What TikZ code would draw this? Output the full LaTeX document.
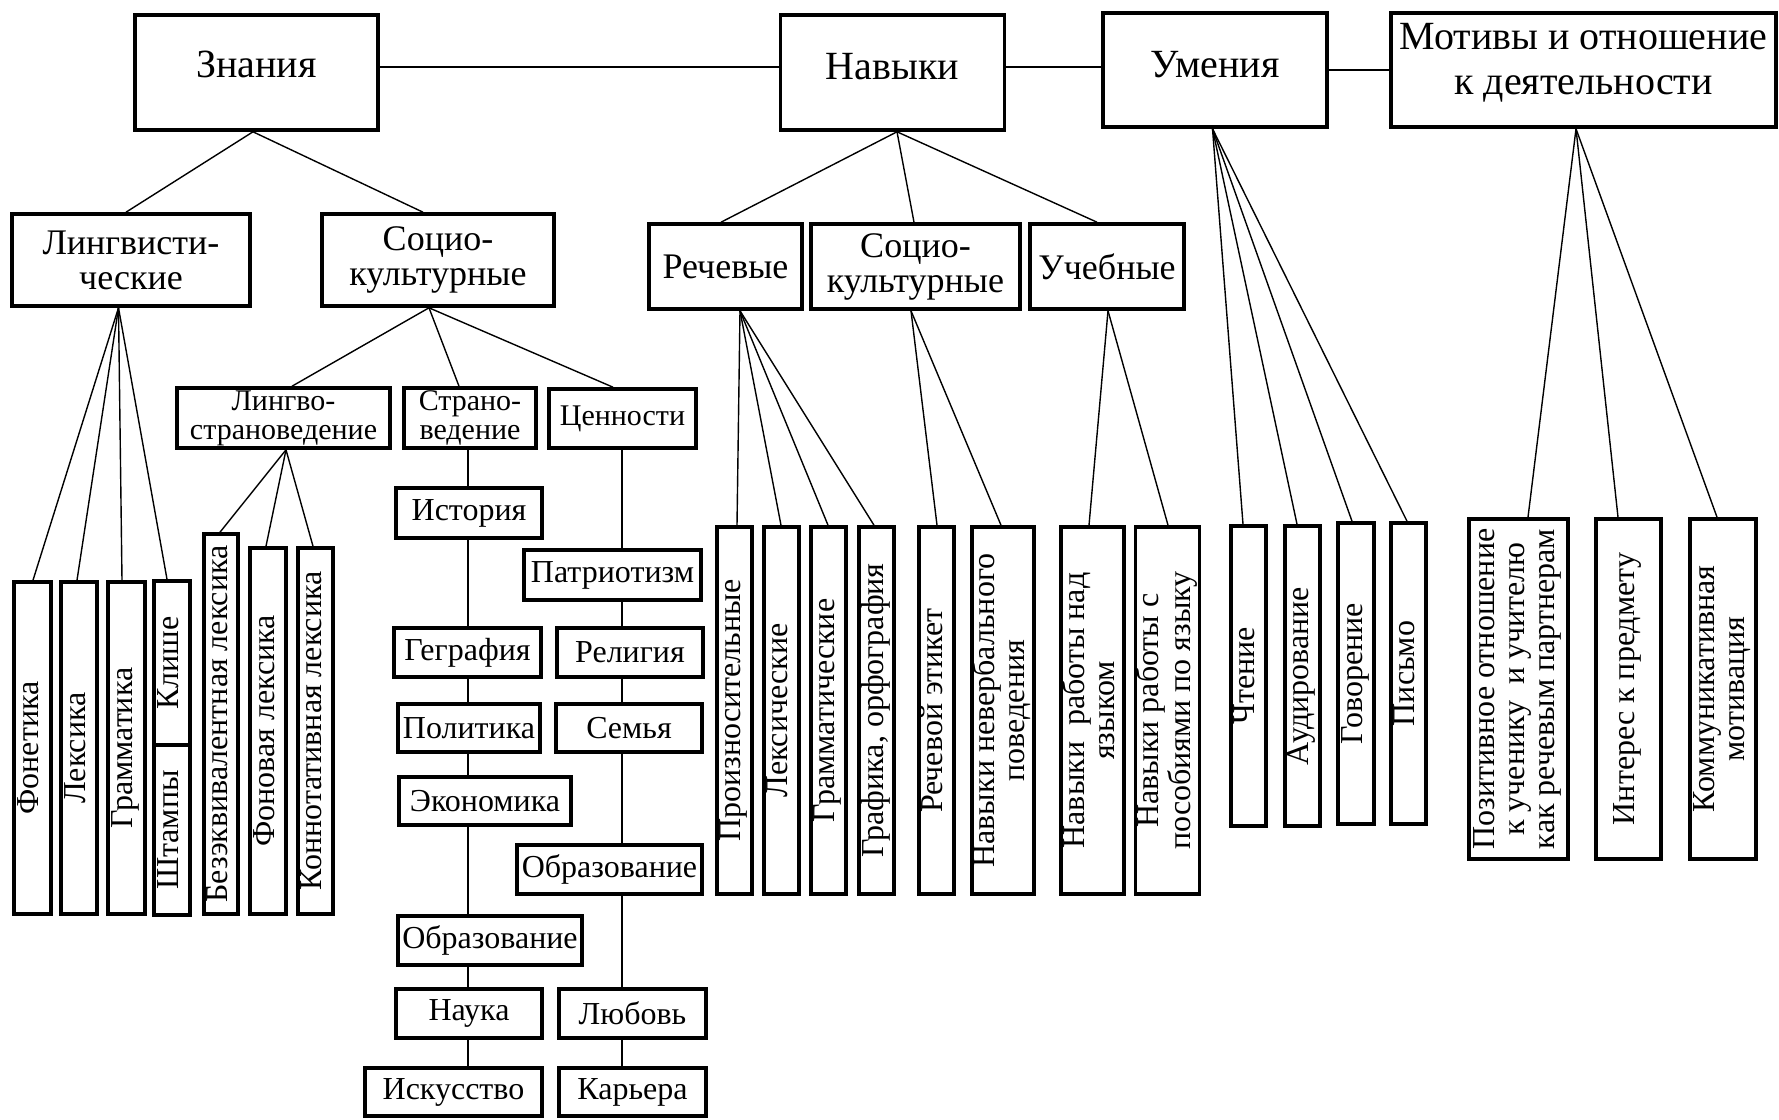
\documentclass[tikz,border=0pt]{standalone}
\usepackage{graphicx}
\usepackage{fontspec}
\setmainfont{Liberation Serif}
\newcommand{\fTop}{\fontsize{40}{45}\selectfont}
\newcommand{\fSec}{\fontsize{36}{35}\selectfont}
\newcommand{\fThr}{\fontsize{30}{29}\selectfont}
\newcommand{\fLeaf}{\fontsize{32}{30}\selectfont}
\newcommand{\vtxt}[1]{\rotatebox{90}{\begin{tabular}{@{}c@{}}#1\end{tabular}}}
\begin{document}
\begin{tikzpicture}[x=1pt,y=-1pt,
  bx/.style={draw, line width=3.6pt, fill=white, inner sep=0pt, align=center},
  sz/.style 2 args={minimum width=#1pt, minimum height=#2pt},
  cn/.style={line width=1.4pt},
  tp/.style={bx, font=\fTop},
  sc/.style={bx, font=\fSec},
  th/.style={bx, font=\fThr},
  lf/.style={bx, font=\fLeaf},
  tl/.style={font=\fTop, align=center}
]
\useasboundingbox[fill=white] (0,0) rectangle (1779,1119);

% top row
\node[tp, sz={243}{115}, label={[tl,yshift=8pt]center:Знания}] (zn) at (256.5,72.5) {};
\node[tp, sz={224}{115}, label={[tl,yshift=5.5pt]center:Навыки}] (nav) at (892.5,72.5) {};
\node[tp, sz={224}{114}, label={[tl,yshift=5pt]center:Умения}] (um) at (1215,70) {};
\node[tp, sz={385}{114}, label={[tl,yshift=7pt]center:{Мотивы и отношение\\к деятельности}}] (mot) at (1583.5,70) {};

% second row
\node[sc, sz={238}{92}] (lng) at (131,260) {Лингвисти-\\ческие};
\node[sc, sz={232}{92}] (soc) at (438,260) {Социо-\\культурные};
\node[sc, sz={153}{85}] (rech) at (725.5,266.5) {Речевые};
\node[sc, sz={209}{85}] (soc2) at (915.5,266.5) {Социо-\\культурные};
\node[sc, sz={154}{85}] (ucheb) at (1107,266.5) {Учебные};

% third row
\node[th, sz={213}{60}] (lingvo) at (283.5,418) {Лингво-\\страноведение};
\node[th, sz={132}{60}] (strano) at (470,418) {Страно-\\ведение};
\node[th, sz={147}{59}] (cenn) at (622.5,418.5) {Ценности};

% strano chain
\node[lf, sz={146}{50}] (ist) at (469,513) {История};
\node[lf, sz={147}{49}] (geo) at (467.5,652.5) {Геграфия};
\node[lf, sz={142}{48}] (pol) at (469,728) {Политика};
\node[lf, sz={172}{48}] (eko) at (485,801) {Экономика};
\node[lf, sz={184}{49}] (obrL) at (490,940.5) {Образование};
\node[lf, sz={146}{49}] (nauka) at (469,1013.5) {Наука};
\node[lf, sz={177}{48}] (isk) at (453.5,1092) {Искусство};

% cenn chain
\node[lf, sz={177}{50}] (patr) at (612.5,575) {Патриотизм};
\node[lf, sz={146}{49}] (rel) at (630,652.5) {Религия};
\node[lf, sz={146}{48}] (sem) at (629,728) {Семья};
\node[lf, sz={185}{49}] (obrR) at (609.5,869.5) {Образование};
\node[lf, sz={147}{49}] (lub) at (632.5,1013.5) {Любовь};
\node[lf, sz={147}{48}] (kar) at (632.5,1092) {Карьера};

% linguistic leaves
\node[lf, sz={37}{332}] (fon) at (32.5,748) {\vtxt{Фонетика}};
\node[lf, sz={36}{332}] (lex) at (79,748) {\vtxt{Лексика}};
\node[lf, sz={37}{332}] (gram) at (126.5,748) {\vtxt{Грамматика}};
\node[lf, sz={36}{164}] (klish) at (172,663) {\vtxt{Клише}};
\node[lf, sz={36}{170}] (shtamp) at (172,830) {\vtxt{Штампы}};

% lingvo leaves
\node[lf, sz={34}{380}] (bezekv) at (221,724) {\vtxt{Безэквивалентная лексика}};
\node[lf, sz={36}{366}] (fonov) at (268,731) {\vtxt{Фоновая лексика}};
\node[lf, sz={35}{366}] (konnot) at (315.5,731) {\vtxt{Коннотативная лексика}};

% skills leaves
\node[lf, sz={35}{367}] (proizn) at (734.5,710.5) {\vtxt{Произносительные}};
\node[lf, sz={35}{367}] (lexich) at (781.5,710.5) {\vtxt{Лексические}};
\node[lf, sz={35}{367}] (grammat) at (828.5,710.5) {\vtxt{Грамматические}};
\node[lf, sz={35}{367}] (graf) at (876.5,710.5) {\vtxt{Графика, орфография}};
\node[lf, sz={35}{367}] (retch) at (936.5,710.5) {\vtxt{Речевой этикет}};
\node[lf, sz={62}{367}] (neverb) at (1003,710.5) {\vtxt{Навыки невербального\\поведения}};
\node[lf, sz={63}{367}] (nad) at (1092.5,710.5) {\vtxt{Навыки\ \ работы над\\языком}};
\node[lf, sz={63}{367}] (posob) at (1167.5,710.5) {\vtxt{Навыки работы с\\пособиями по языку}};

% abilities leaves
\node[lf, sz={35}{300}] (cht) at (1248.5,676) {\vtxt{Чтение}};
\node[lf, sz={35}{300}] (aud) at (1302.5,676) {\vtxt{Аудирование}};
\node[lf, sz={36}{301}] (gov) at (1356,673.5) {\vtxt{Говорение}};
\node[lf, sz={35}{301}] (pis) at (1408.5,673.5) {\vtxt{Письмо}};

% motives leaves
\node[lf, sz={99}{340}] (poz) at (1518.5,689) {\vtxt{Позитивное отношение\\к ученику\ \ и учителю\\как речевым партнерам}};
\node[lf, sz={65}{340}] (inter) at (1628.5,689) {\vtxt{Интерес к предмету}};
\node[lf, sz={66}{340}] (kom) at (1723,689) {\vtxt{Коммуникативная\\мотивация}};

% horizontal top connectors
\draw[cn] ([yshift=5.5pt]zn.east) -- ([yshift=5.5pt]nav.west);
\draw[cn] ([yshift=5.5pt]nav.east) -- ([yshift=3pt]um.west);
\draw[cn] (um.east) -- (mot.west);

% fans
\draw[cn] ([xshift=-3.5pt]zn.south) -- ([xshift=-5pt]lng.north);
\draw[cn] ([xshift=-3.5pt]zn.south) -- ([xshift=-15pt]soc.north);

\foreach \t/\d in {rech/-4.5, soc2/-1.5, ucheb/-10}
  \draw[cn] ([xshift=4.5pt]nav.south) -- ([xshift=\d pt]\t.north);

\foreach \t/\d in {fon/0.5, lex/-2, gram/-4.5, klish/-5}
  \draw[cn] ([xshift=-12.5pt]lng.south) -- ([xshift=\d pt]\t.north);

\foreach \t/\d in {lingvo/8.5, strano/-11, cenn/-9.5}
  \draw[cn] ([xshift=-9pt]soc.south) -- ([xshift=\d pt]\t.north);

\foreach \t/\d in {bezekv/-1, fonov/-2, konnot/-2.5}
  \draw[cn] ([xshift=2.5pt]lingvo.south) -- ([xshift=\d pt]\t.north);

\foreach \t/\d in {proizn/2.5, lexich/-0.5, grammat/-0.5, graf/-2.5}
  \draw[cn] ([xshift=14.5pt]rech.south) -- ([xshift=\d pt]\t.north);

\foreach \t/\d in {retch/0.5, neverb/-2}
  \draw[cn] ([xshift=-4.5pt]soc2.south) -- ([xshift=\d pt]\t.north);

\foreach \t/\d in {nad/-3.5, posob/0.5}
  \draw[cn] ([xshift=1pt]ucheb.south) -- ([xshift=\d pt]\t.north);

\foreach \t/\d in {cht/-5.5, aud/-5.5, gov/-4, pis/-1.5}
  \draw[cn] ([xshift=-2.5pt]um.south) -- ([xshift=\d pt]\t.north);

\foreach \t/\d in {poz/9.5, inter/-10.5, kom/-6}
  \draw[cn] ([xshift=-7.5pt]mot.south) -- ([xshift=\d pt]\t.north);

% vertical chains
\coordinate (sx) at (468,0);
\coordinate (cx) at (622,0);
\foreach \a/\b in {strano/ist, ist/geo, geo/pol, pol/eko, eko/obrL, obrL/nauka, nauka/isk}
  \draw[cn] (\a.south -| sx) -- (\b.north -| sx);
\foreach \a/\b in {cenn/patr, patr/rel, rel/sem, sem/obrR, obrR/lub, lub/kar}
  \draw[cn] (\a.south -| cx) -- (\b.north -| cx);
\end{tikzpicture}
\end{document}
